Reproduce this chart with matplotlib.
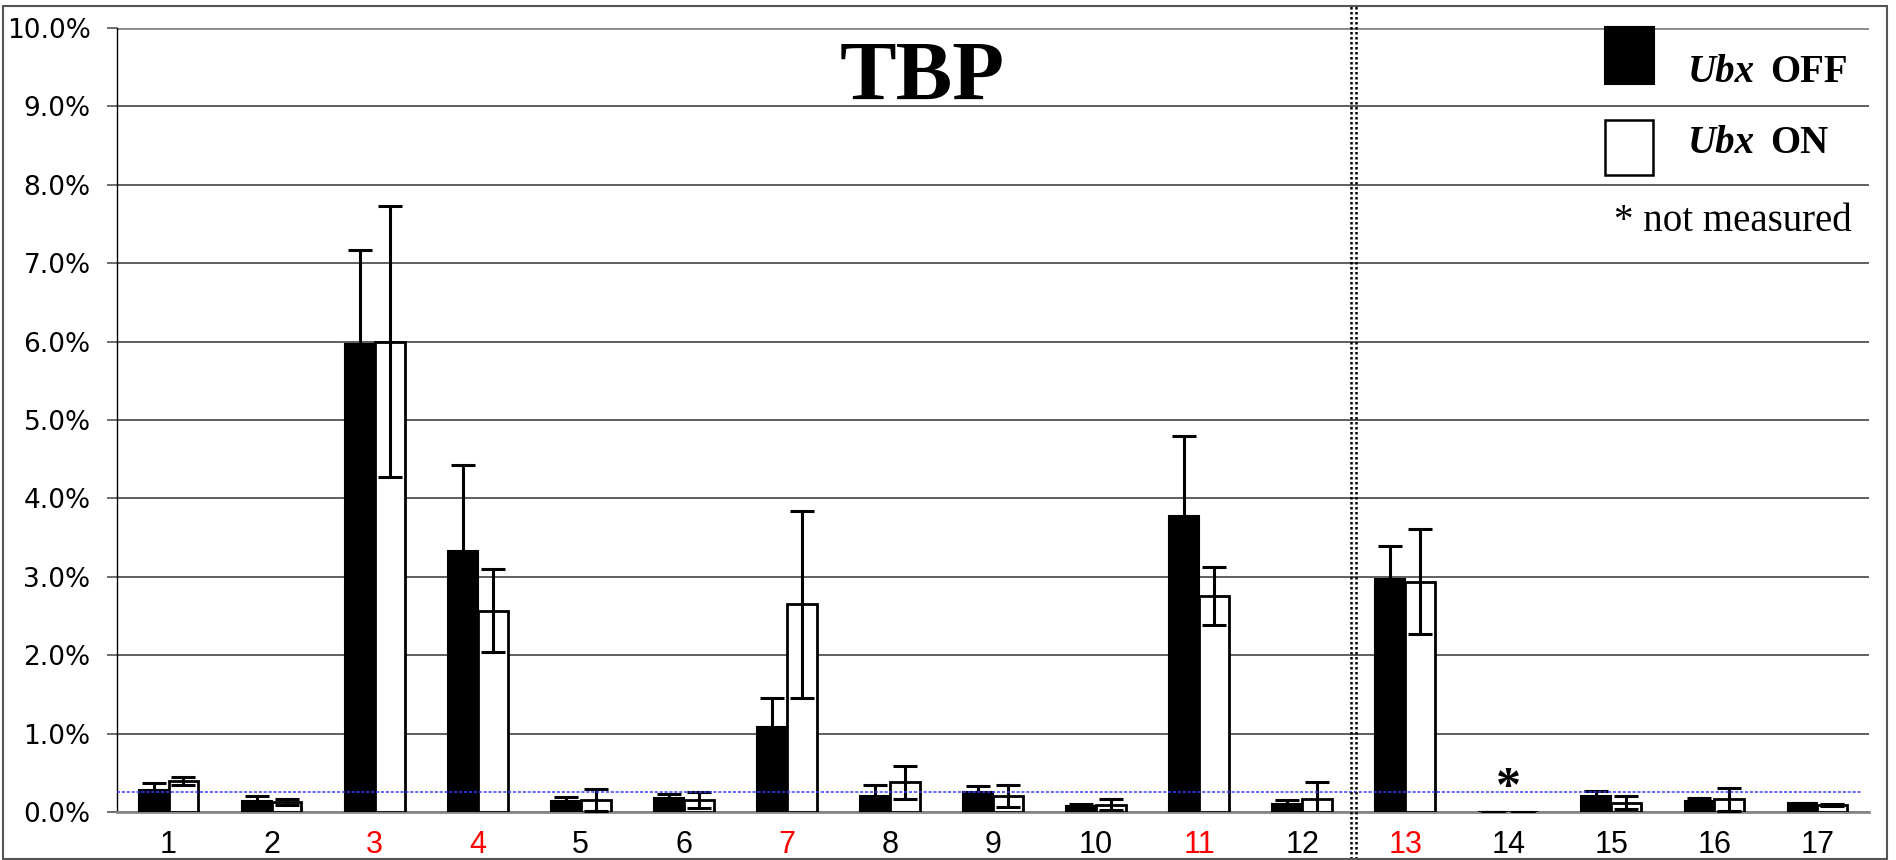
import matplotlib
matplotlib.use("Agg")
import matplotlib.pyplot as plt
import matplotlib.patches as mpatches
import numpy as np

# ---- data ----
categories = [str(i) for i in range(1, 18)]
red_labels = ["3", "4", "7", "11", "13"]
ubx_off = [0.28, 0.14, 5.97, 3.33, 0.14, 0.18, 1.08, 0.21, 0.25, 0.08, 3.77, 0.10, 2.97, 0.0, 0.20, 0.14, 0.11]
ubx_off_err = [0.09, 0.07, 1.20, 1.09, 0.05, 0.05, 0.38, 0.13, 0.08, 0.02, 1.02, 0.05, 0.42, 0.0, 0.07, 0.04, 0.01]
ubx_on = [0.40, 0.13, 6.00, 2.57, 0.15, 0.15, 2.65, 0.38, 0.20, 0.09, 2.75, 0.17, 2.94, 0.0, 0.12, 0.16, 0.09]
ubx_on_err = [0.05, 0.04, 1.73, 0.53, 0.14, 0.10, 1.19, 0.21, 0.14, 0.07, 0.37, 0.21, 0.67, 0.0, 0.08, 0.15, 0.01]
threshold = 0.255
not_measured = "14"
yticks = [0, 1, 2, 3, 4, 5, 6, 7, 8, 9, 10]

W, H = 1896, 860
fig = plt.figure(figsize=(W / 100, H / 100), dpi=100)
ax = fig.add_axes([117 / W, 1 - 812 / H, (1869 - 117) / W, (812 - 28) / H])

x = np.arange(1, len(categories) + 1)
bw = 0.29
ek = dict(ecolor="black", elinewidth=2.2, capsize=8.4, capthick=2.2)
ax.bar(x - bw / 2, ubx_off, bw, color="black", edgecolor="black", linewidth=1.5,
       yerr=ubx_off_err, error_kw=ek, zorder=3)
ax.bar(x + bw / 2, ubx_on, bw, color="white", edgecolor="black", linewidth=2.0,
       yerr=ubx_on_err, error_kw=ek, zorder=3)

ax.set_xlim(0.5, len(categories) + 0.5)
ax.set_ylim(0, 10)
ax.set_yticks(yticks)
ax.set_yticklabels([f"{v:.1f}%" for v in yticks], family="DejaVu Sans", fontsize=19)
ax.set_xticks(x)
ax.set_xticklabels(categories, family=["Liberation Sans", "DejaVu Sans"], fontsize=22)
for lab in ax.get_xticklabels():
    if lab.get_text() in red_labels:
        lab.set_color("red")
ax.tick_params(axis="x", length=0, pad=13)
ax.tick_params(axis="y", length=7, width=1.2, color="#555555", pad=12)

ax.yaxis.grid(True, color="#444444", linewidth=1.2, zorder=0)
ax.set_axisbelow(True)
gl = ax.get_ygridlines()
gl[-1].set_color("#888888")
gl[-1].set_linewidth(2.0)
for s in ["top", "right"]:
    ax.spines[s].set_visible(False)
ax.spines["left"].set_color("black")
ax.spines["left"].set_linewidth(1.0)
ax.spines["bottom"].set_color("#888888")
ax.spines["bottom"].set_linewidth(2.0)
ax.spines["bottom"].set_zorder(2.5)

# threshold line
ax.plot([0.5, 17.42], [threshold, threshold], color="#3a3aff", linewidth=1.1,
        linestyle=(0, (2, 1.2)), zorder=4)

# divider between 12 and 13
for dx in (-0.022, 0.022):
    ax.axvline(12.5 + dx, ymin=-0.06, ymax=1.028, color="black", linewidth=1.8,
               linestyle=(0, (1, 1)), clip_on=False, zorder=5)

# not measured asterisk
ax.text(categories.index(not_measured) + 1, 0.29, "*", ha="center", va="center",
        family="Liberation Serif", fontweight="bold", fontsize=36)

# title
fig.text(922 / W, 1 - 100 / H, "TBP", ha="center", va="baseline",
         family="Liberation Serif", fontweight="bold", fontsize=61)

# legend
fig.patches.append(mpatches.Rectangle((1605 / W, 1 - 84 / H), 49 / W, 57 / H,
                                      transform=fig.transFigure, facecolor="black",
                                      edgecolor="black", linewidth=1.5))
fig.patches.append(mpatches.Rectangle((1605 / W, 1 - 175 / H), 48 / W, 55 / H,
                                      transform=fig.transFigure, facecolor="white",
                                      edgecolor="black", linewidth=1.8))
for yb, word in ((82, "OFF"), (153, "ON")):
    fig.text(1688 / W, 1 - yb / H, "Ubx", ha="left", va="baseline", family="Liberation Serif",
             fontweight="bold", style="italic", fontsize=28)
    fig.text(1770 / W, 1 - yb / H, word, ha="left", va="baseline", family="Liberation Serif",
             fontweight="bold", fontsize=28)
fig.text(1852 / W, 1 - 231 / H, "* not measured", ha="right", va="baseline",
         family="Liberation Serif", fontsize=28)

# outer frame
fig.patches.append(mpatches.Rectangle((3 / W, 1 / H), 1884 / W, 853 / H,
                                      transform=fig.transFigure, facecolor="none",
                                      edgecolor="#555555", linewidth=1.5))

fig.savefig("out.png", dpi=100)
